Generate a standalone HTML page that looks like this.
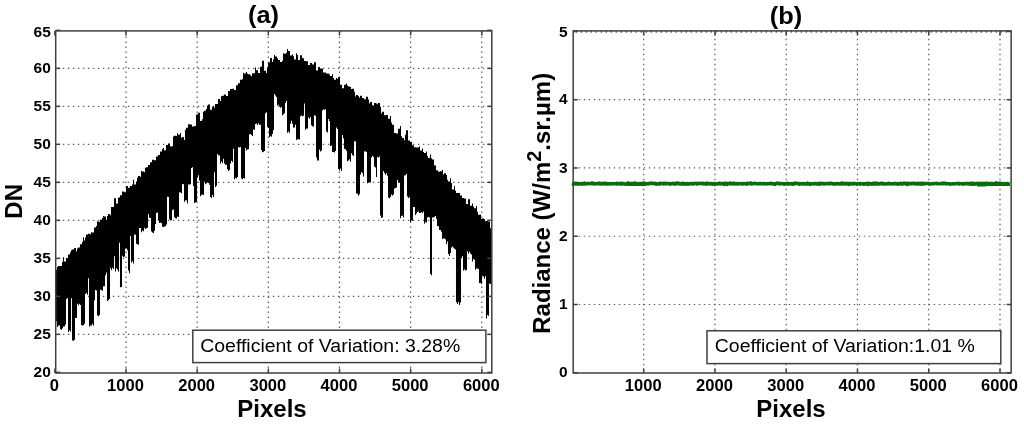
<!DOCTYPE html>
<html><head><meta charset="utf-8"><title>plots</title><style>
html,body{margin:0;padding:0;background:#fff;width:1024px;height:425px;overflow:hidden}
svg{position:absolute;left:0;top:0;display:block;filter:blur(0.4px)}
text{font-family:"Liberation Sans",sans-serif;fill:#000}
.tk{font-size:15.5px;font-weight:bold}
.lb{font-size:24px;font-weight:bold}
.bx{font-size:18px}
.g{stroke:#5a5a5a;stroke-width:1.2;stroke-dasharray:1.4 3.6;fill:none}
.t{stroke:#404040;stroke-width:1.5}
</style></head><body>
<svg width="1024" height="425" viewBox="0 0 1024 425">
<line x1="126.01" y1="30.90" x2="126.01" y2="373.00" class="g" stroke-dashoffset="4.4"/>
<line x1="197.17" y1="30.90" x2="197.17" y2="373.00" class="g" stroke-dashoffset="4.4"/>
<line x1="268.33" y1="30.90" x2="268.33" y2="373.00" class="g" stroke-dashoffset="4.4"/>
<line x1="339.49" y1="30.90" x2="339.49" y2="373.00" class="g" stroke-dashoffset="4.4"/>
<line x1="410.65" y1="30.90" x2="410.65" y2="373.00" class="g" stroke-dashoffset="4.4"/>
<line x1="481.81" y1="30.90" x2="481.81" y2="373.00" class="g" stroke-dashoffset="4.4"/>
<line x1="55.70" y1="334.35" x2="491.80" y2="334.35" class="g" stroke-dashoffset="2.8"/>
<line x1="55.70" y1="296.35" x2="491.80" y2="296.35" class="g" stroke-dashoffset="2.8"/>
<line x1="55.70" y1="258.35" x2="491.80" y2="258.35" class="g" stroke-dashoffset="2.8"/>
<line x1="55.70" y1="220.35" x2="491.80" y2="220.35" class="g" stroke-dashoffset="2.8"/>
<line x1="55.70" y1="182.35" x2="491.80" y2="182.35" class="g" stroke-dashoffset="2.8"/>
<line x1="55.70" y1="144.35" x2="491.80" y2="144.35" class="g" stroke-dashoffset="2.8"/>
<line x1="55.70" y1="106.35" x2="491.80" y2="106.35" class="g" stroke-dashoffset="2.8"/>
<line x1="55.70" y1="68.35" x2="491.80" y2="68.35" class="g" stroke-dashoffset="2.8"/>
<line x1="643.70" y1="30.90" x2="643.70" y2="373.00" class="g" stroke-dashoffset="2.05"/>
<line x1="714.96" y1="30.90" x2="714.96" y2="373.00" class="g" stroke-dashoffset="2.05"/>
<line x1="786.22" y1="30.90" x2="786.22" y2="373.00" class="g" stroke-dashoffset="2.05"/>
<line x1="857.48" y1="30.90" x2="857.48" y2="373.00" class="g" stroke-dashoffset="2.05"/>
<line x1="928.74" y1="30.90" x2="928.74" y2="373.00" class="g" stroke-dashoffset="2.05"/>
<line x1="1000.00" y1="30.90" x2="1000.00" y2="373.00" class="g" stroke-dashoffset="2.05"/>
<line x1="573.20" y1="304.51" x2="1011.15" y2="304.51" class="g" stroke-dashoffset="4.4"/>
<line x1="573.20" y1="236.24" x2="1011.15" y2="236.24" class="g" stroke-dashoffset="4.4"/>
<line x1="573.20" y1="167.97" x2="1011.15" y2="167.97" class="g" stroke-dashoffset="4.4"/>
<line x1="573.20" y1="99.70" x2="1011.15" y2="99.70" class="g" stroke-dashoffset="4.4"/>
<line x1="573.20" y1="31.8" x2="1011.15" y2="31.8" class="g" stroke-dashoffset="2.6" style="stroke:#222"/>
<path d="M56.5 269.8V321.2M57.5 267.0V327.1M58.5 266.1V325.6M59.5 266.1V325.4M60.5 265.9V328.9M61.5 265.9V329.7M62.5 262.0V328.2M63.5 257.3V326.5M64.5 261.4V326.5M65.5 261.4V324.6M66.5 258.1V299.1M67.5 258.1V298.1M68.5 254.4V331.9M69.5 254.4V330.3M70.5 252.2V331.6M71.5 250.3V298.3M72.5 249.6V340.4M73.5 249.6V340.7M74.5 248.0V339.7M75.5 248.0V318.0M76.5 251.3V317.8M77.5 248.4V303.8M78.5 247.6V305.2M79.5 247.6V303.7M80.5 244.2V305.0M81.5 244.2V324.9M82.5 242.0V325.4M83.5 237.3V325.3M84.5 240.4V323.8M85.5 237.6V294.0M86.5 234.5V293.0M87.5 234.5V294.8M88.5 233.8V278.3M89.5 233.8V326.4M90.5 234.3V325.6M91.5 232.3V325.4M92.5 232.5V323.7M93.5 232.5V325.6M94.5 227.4V300.2M95.5 227.4V290.0M96.5 226.0V290.5M97.5 221.3V315.6M98.5 221.7V316.3M99.5 221.7V315.1M100.5 219.8V289.6M101.5 219.8V290.2M102.5 218.0V290.8M103.5 216.1V286.2M104.5 216.6V286.2M105.5 216.6V275.3M106.5 219.8V272.4M107.5 216.1V300.9M108.5 213.9V299.9M109.5 213.9V299.0M110.5 215.2V268.1M111.5 207.0V270.0M112.5 207.1V267.8M113.5 207.1V269.1M114.5 198.2V256.2M115.5 198.2V271.5M116.5 203.5V268.2M117.5 203.5V269.4M118.5 197.6V271.6M119.5 197.6V242.8M120.5 195.3V287.3M121.5 195.3V287.0M122.5 191.5V255.8M123.5 191.5V256.9M124.5 192.3V256.4M125.5 192.3V248.8M126.5 185.9V248.5M127.5 185.9V250.2M128.5 187.7V270.6M129.5 187.7V273.3M130.5 186.0V236.1M131.5 186.0V262.4M132.5 184.5V260.9M133.5 179.8V263.6M134.5 184.6V234.6M135.5 184.6V234.8M136.5 181.5V243.8M137.5 177.7V244.3M138.5 176.1V244.8M139.5 176.1V228.1M140.5 176.7V227.9M141.5 171.0V232.2M142.5 171.5V230.5M143.5 171.5V231.2M144.5 172.3V227.8M145.5 167.7V229.0M146.5 167.3V228.3M147.5 167.3V227.8M148.5 165.1V213.9M149.5 165.1V217.8M150.5 162.3V218.0M151.5 162.3V231.5M152.5 159.8V232.5M153.5 159.8V232.9M154.5 160.2V230.7M155.5 160.2V223.9M156.5 156.4V213.1M157.5 156.4V212.6M158.5 155.0V220.3M159.5 155.0V223.0M160.5 151.6V222.8M161.5 151.6V223.1M162.5 149.1V226.8M163.5 148.0V226.9M164.5 150.2V226.5M165.5 150.2V226.2M166.5 144.9V224.5M167.5 144.9V196.8M168.5 143.4V197.1M169.5 143.4V219.2M170.5 146.6V220.5M171.5 146.6V220.0M172.5 146.1V210.1M173.5 136.6V209.6M174.5 135.8V217.3M175.5 135.8V218.2M176.5 136.1V218.4M177.5 133.3V216.5M178.5 134.7V217.0M179.5 134.7V192.3M180.5 133.0V192.4M181.5 137.7V193.3M182.5 137.1V183.9M183.5 137.1V184.2M184.5 140.1V201.8M185.5 129.8V200.6M186.5 127.7V200.2M187.5 127.7V203.6M188.5 124.3V184.4M189.5 124.3V184.4M190.5 124.4V184.2M191.5 124.4V168.0M192.5 126.5V167.3M193.5 126.5V185.9M194.5 126.1V203.0M195.5 126.1V202.6M196.5 114.5V201.8M197.5 114.5V177.2M198.5 112.7V175.3M199.5 112.7V180.4M200.5 120.9V196.2M201.5 120.9V194.7M202.5 119.3V194.7M203.5 111.8V195.1M204.5 110.8V181.7M205.5 110.8V184.2M206.5 109.1V183.3M207.5 105.4V182.5M208.5 104.6V183.1M209.5 104.6V184.8M210.5 109.7V197.0M211.5 109.7V198.1M212.5 106.6V195.1M213.5 106.6V197.1M214.5 107.7V172.2M215.5 103.9V187.0M216.5 104.1V185.8M217.5 104.1V154.1M218.5 99.0V155.4M219.5 99.0V155.2M220.5 101.0V163.7M221.5 96.2V161.6M222.5 95.7V162.9M223.5 95.7V158.7M224.5 94.4V163.6M225.5 94.4V164.7M226.5 95.9V164.8M227.5 95.9V169.1M228.5 90.9V171.0M229.5 90.9V170.1M230.5 89.0V163.5M231.5 89.0V160.8M232.5 88.8V162.0M233.5 88.8V148.8M234.5 90.0V179.3M235.5 90.0V177.8M236.5 85.3V178.6M237.5 85.3V177.1M238.5 83.2V147.3M239.5 83.2V147.6M240.5 79.8V147.0M241.5 79.8V178.5M242.5 79.2V179.2M243.5 72.7V178.1M244.5 73.5V178.5M245.5 73.5V147.9M246.5 71.9V150.5M247.5 73.7V149.3M248.5 74.3V149.3M249.5 74.3V134.3M250.5 75.2V134.1M251.5 76.2V135.1M252.5 73.3V136.1M253.5 73.3V129.5M254.5 73.3V129.8M255.5 67.6V124.1M256.5 70.3V123.4M257.5 70.3V124.9M258.5 73.1V123.2M259.5 73.1V124.8M260.5 66.8V124.7M261.5 66.8V149.9M262.5 60.8V152.2M263.5 60.8V151.7M264.5 70.8V151.0M265.5 70.8V113.2M266.5 72.9V112.2M267.5 67.3V127.1M268.5 62.5V128.0M269.5 62.5V137.3M270.5 58.1V135.7M271.5 58.1V136.7M272.5 62.1V134.0M273.5 59.3V129.9M274.5 54.9V94.1M275.5 56.5V95.6M276.5 56.4V96.9M277.5 58.2V105.4M278.5 59.9V104.7M279.5 59.9V106.4M280.5 61.9V107.7M281.5 61.9V106.9M282.5 60.8V115.3M283.5 53.2V114.2M284.5 53.7V113.2M285.5 53.7V102.9M286.5 52.8V100.7M287.5 49.0V132.8M288.5 50.9V131.6M289.5 50.9V132.8M290.5 55.5V123.7M291.5 55.5V120.8M292.5 54.4V123.8M293.5 56.3V127.6M294.5 59.6V127.4M295.5 59.6V124.8M296.5 53.2V139.9M297.5 55.0V139.3M298.5 60.0V139.2M299.5 60.0V139.5M300.5 55.2V116.2M301.5 55.2V115.4M302.5 58.2V116.3M303.5 58.2V115.7M304.5 60.9V103.5M305.5 60.9V129.8M306.5 61.2V128.5M307.5 61.2V128.4M308.5 65.1V117.6M309.5 65.1V118.7M310.5 62.9V117.1M311.5 62.9V125.3M312.5 64.4V126.3M313.5 64.4V126.6M314.5 62.2V115.2M315.5 62.2V115.7M316.5 70.6V157.6M317.5 70.6V160.4M318.5 67.1V160.4M319.5 67.1V149.5M320.5 68.6V151.6M321.5 68.6V150.4M322.5 68.7V110.4M323.5 72.4V109.2M324.5 72.6V109.8M325.5 72.6V109.2M326.5 73.4V131.5M327.5 73.4V132.5M328.5 73.4V118.9M329.5 74.4V120.9M330.5 76.1V146.1M331.5 76.1V145.4M332.5 74.3V152.0M333.5 78.0V152.1M334.5 79.7V152.5M335.5 79.7V150.9M336.5 78.1V127.4M337.5 79.1V129.0M338.5 77.3V169.0M339.5 77.3V170.4M340.5 84.7V168.6M341.5 84.7V171.0M342.5 88.3V134.9M343.5 88.3V138.2M344.5 84.7V149.0M345.5 84.7V149.3M346.5 83.5V150.8M347.5 85.4V161.3M348.5 86.5V160.5M349.5 86.5V159.3M350.5 87.1V161.7M351.5 88.9V153.3M352.5 88.8V155.1M353.5 88.8V156.0M354.5 91.7V141.5M355.5 96.5V141.3M356.5 95.0V193.6M357.5 95.0V193.7M358.5 96.0V195.7M359.5 97.8V194.3M360.5 95.8V174.6M361.5 95.8V172.1M362.5 98.0V172.9M363.5 98.0V176.4M364.5 99.2V151.5M365.5 99.2V151.2M366.5 96.8V152.1M367.5 96.8V183.2M368.5 99.6V182.3M369.5 103.4V182.3M370.5 102.1V182.5M371.5 102.1V157.4M372.5 105.0V155.9M373.5 106.0V156.8M374.5 103.1V166.6M375.5 103.1V167.6M376.5 103.6V177.0M377.5 104.3V157.1M378.5 103.0V157.4M379.5 103.0V156.5M380.5 106.8V215.6M381.5 113.4V217.9M382.5 111.7V217.2M383.5 111.7V171.1M384.5 115.2V172.9M385.5 115.2V174.7M386.5 115.1V173.2M387.5 115.1V175.7M388.5 118.8V197.7M389.5 118.8V198.2M390.5 116.0V197.0M391.5 122.6V194.4M392.5 124.8V195.5M393.5 124.8V194.5M394.5 132.9V188.5M395.5 132.9V187.9M396.5 133.4V187.4M397.5 133.4V179.9M398.5 128.8V182.0M399.5 128.8V182.8M400.5 126.0V218.2M401.5 136.3V216.0M402.5 138.0V215.4M403.5 138.0V217.4M404.5 140.3V175.6M405.5 134.7V175.3M406.5 130.2V173.7M407.5 130.2V196.5M408.5 140.5V198.1M409.5 140.5V197.2M410.5 142.0V222.1M411.5 142.0V220.6M412.5 145.3V220.7M413.5 145.3V207.0M414.5 147.3V207.1M415.5 147.3V215.1M416.5 147.4V213.4M417.5 147.4V212.1M418.5 147.4V211.5M419.5 146.5V213.0M420.5 150.5V213.1M421.5 150.5V212.0M422.5 148.4V213.1M423.5 152.1V211.6M424.5 152.9V223.8M425.5 152.9V222.1M426.5 151.4V222.5M427.5 156.1V217.4M428.5 157.9V217.0M429.5 157.9V217.4M430.5 154.5V274.1M431.5 158.3V275.2M432.5 159.4V217.5M433.5 159.4V217.6M434.5 165.5V216.8M435.5 165.5V216.0M436.5 170.2V218.7M437.5 170.2V225.9M438.5 171.8V226.3M439.5 171.8V229.9M440.5 171.3V230.0M441.5 171.3V231.8M442.5 169.9V239.0M443.5 174.6V238.3M444.5 173.2V238.5M445.5 173.2V239.3M446.5 175.1V244.3M447.5 179.8V241.5M448.5 181.5V253.9M449.5 181.5V256.1M450.5 178.2V253.0M451.5 182.9V247.4M452.5 189.5V246.4M453.5 189.5V247.8M454.5 186.0V248.7M455.5 190.7V249.6M456.5 193.1V302.3M457.5 193.1V304.1M458.5 193.0V302.1M459.5 193.0V305.1M460.5 195.5V302.5M461.5 195.5V258.2M462.5 198.1V256.3M463.5 198.1V270.5M464.5 198.4V269.3M465.5 198.4V270.5M466.5 203.9V269.9M467.5 203.9V251.3M468.5 199.3V253.8M469.5 199.3V251.8M470.5 205.8V253.5M471.5 205.8V254.4M472.5 203.6V261.6M473.5 206.4V259.0M474.5 208.2V259.8M475.5 208.2V269.8M476.5 206.1V268.6M477.5 211.7V268.4M478.5 214.8V269.1M479.5 214.8V283.0M480.5 214.4V283.1M481.5 219.1V284.0M482.5 218.5V275.8M483.5 218.5V276.5M484.5 219.3V278.8M485.5 221.2V276.0M486.5 221.1V318.5M487.5 221.1V314.9M488.5 221.6V315.8M489.5 221.6V283.4M490.5 228.3V283.9M491.5 226.9V284.7" stroke="#000" stroke-width="1.05" fill="none"/>
<polyline points="573.2,183.73 573.2,184.34 573.3,184.30 573.7,183.39 574.2,183.62 574.6,184.03 575.0,183.37 575.4,184.09 575.9,183.36 576.3,183.28 576.7,183.88 577.1,183.97 577.6,183.44 578.0,183.97 578.4,183.44 578.9,184.00 579.3,183.45 579.7,183.65 580.1,183.79 580.6,183.92 581.0,183.61 581.4,184.19 581.8,183.75 582.3,183.78 582.7,183.49 583.1,184.01 583.6,183.20 584.0,183.76 584.4,183.98 584.8,183.29 585.3,183.22 585.7,183.72 586.1,183.92 586.5,183.67 587.0,183.86 587.4,183.76 587.8,183.25 588.3,183.57 588.7,183.63 589.1,183.58 589.5,183.69 590.0,183.44 590.4,183.43 590.8,183.77 591.3,183.64 591.7,183.01 592.1,183.56 592.5,183.72 593.0,183.11 593.4,183.67 593.8,183.97 594.2,183.49 594.7,183.92 595.1,183.81 595.5,183.58 596.0,183.71 596.4,183.88 596.8,183.82 597.2,183.83 597.7,183.35 598.1,183.87 598.5,183.83 598.9,183.12 599.4,183.82 599.8,183.27 600.2,183.31 600.7,183.71 601.1,184.06 601.5,183.55 601.9,183.49 602.4,183.41 602.8,183.65 603.2,183.34 603.7,183.29 604.1,183.96 604.5,183.28 604.9,183.62 605.4,183.83 605.8,183.76 606.2,183.16 606.6,183.40 607.1,184.16 607.5,183.65 607.9,183.71 608.4,183.72 608.8,183.81 609.2,184.07 609.6,183.44 610.1,183.93 610.5,183.77 610.9,183.84 611.3,183.87 611.8,183.47 612.2,183.57 612.6,183.86 613.1,183.93 613.5,183.80 613.9,183.41 614.3,183.64 614.8,183.61 615.2,183.76 615.6,183.74 616.1,183.61 616.5,184.18 616.9,183.23 617.3,183.89 617.8,183.83 618.2,183.31 618.6,183.61 619.0,183.66 619.5,183.83 619.9,184.10 620.3,183.62 620.8,183.35 621.2,183.92 621.6,183.30 622.0,183.98 622.5,183.87 622.9,183.53 623.3,183.67 623.7,183.48 624.2,183.87 624.6,183.95 625.0,184.18 625.5,184.00 625.9,183.97 626.3,184.06 626.7,183.59 627.2,183.85 627.6,184.22 628.0,182.99 628.5,183.90 628.9,184.01 629.3,183.33 629.7,183.35 630.2,183.99 630.6,184.07 631.0,183.95 631.4,183.36 631.9,183.76 632.3,183.89 632.7,183.68 633.2,183.34 633.6,184.05 634.0,183.78 634.4,184.05 634.9,183.08 635.3,183.18 635.7,183.41 636.1,183.71 636.6,183.49 637.0,184.25 637.4,183.60 637.9,184.04 638.3,184.03 638.7,183.86 639.1,183.77 639.6,183.52 640.0,183.48 640.4,183.60 640.8,183.93 641.3,183.49 641.7,183.71 642.1,183.35 642.6,183.92 643.0,184.43 643.4,183.80 643.8,183.08 644.3,183.54 644.7,183.73 645.1,183.43 645.6,183.53 646.0,183.55 646.4,183.81 646.8,183.65 647.3,183.62 647.7,183.85 648.1,183.98 648.5,183.63 649.0,183.41 649.4,183.50 649.8,183.54 650.3,183.53 650.7,182.97 651.1,183.60 651.5,183.39 652.0,183.14 652.4,183.66 652.8,183.60 653.2,183.39 653.7,183.21 654.1,183.59 654.5,183.57 655.0,183.65 655.4,184.00 655.8,183.37 656.2,183.74 656.7,184.14 657.1,183.71 657.5,184.14 658.0,183.95 658.4,183.67 658.8,183.92 659.2,183.38 659.7,184.07 660.1,183.60 660.5,183.52 660.9,183.27 661.4,183.42 661.8,183.61 662.2,183.65 662.7,183.69 663.1,183.36 663.5,183.85 663.9,183.53 664.4,183.70 664.8,183.60 665.2,183.74 665.6,183.09 666.1,183.85 666.5,183.60 666.9,183.59 667.4,183.50 667.8,183.55 668.2,183.55 668.6,183.40 669.1,184.08 669.5,183.67 669.9,184.01 670.4,183.61 670.8,183.99 671.2,183.93 671.6,183.69 672.1,183.29 672.5,183.51 672.9,183.59 673.3,183.29 673.8,183.93 674.2,184.24 674.6,183.78 675.1,183.74 675.5,183.33 675.9,183.08 676.3,184.03 676.8,182.99 677.2,183.24 677.6,183.44 678.0,183.57 678.5,183.01 678.9,183.65 679.3,183.80 679.8,183.63 680.2,184.04 680.6,183.54 681.0,183.70 681.5,183.58 681.9,183.57 682.3,183.96 682.8,183.31 683.2,183.95 683.6,183.43 684.0,184.10 684.5,183.57 684.9,183.89 685.3,183.66 685.7,183.85 686.2,184.26 686.6,183.97 687.0,183.65 687.5,183.50 687.9,184.07 688.3,184.25 688.7,183.91 689.2,183.73 689.6,183.84 690.0,183.89 690.4,183.44 690.9,183.40 691.3,183.47 691.7,183.92 692.2,183.65 692.6,183.72 693.0,184.06 693.4,183.43 693.9,183.64 694.3,183.80 694.7,183.28 695.1,183.46 695.6,183.43 696.0,183.34 696.4,183.47 696.9,184.01 697.3,183.77 697.7,183.39 698.1,183.88 698.6,183.66 699.0,183.56 699.4,183.27 699.9,183.31 700.3,183.42 700.7,183.72 701.1,183.42 701.6,183.52 702.0,183.71 702.4,183.30 702.8,183.53 703.3,183.87 703.7,183.32 704.1,183.74 704.6,183.51 705.0,184.08 705.4,183.67 705.8,183.93 706.3,183.93 706.7,184.19 707.1,183.08 707.5,183.71 708.0,183.60 708.4,183.37 708.8,183.70 709.3,183.53 709.7,184.04 710.1,183.62 710.5,183.78 711.0,183.53 711.4,183.62 711.8,184.05 712.3,184.18 712.7,183.95 713.1,183.47 713.5,183.55 714.0,183.56 714.4,184.22 714.8,184.40 715.2,183.84 715.7,183.76 716.1,183.84 716.5,183.57 717.0,183.72 717.4,183.99 717.8,183.91 718.2,183.63 718.7,183.65 719.1,183.69 719.5,183.05 719.9,183.74 720.4,183.64 720.8,183.94 721.2,183.77 721.7,183.53 722.1,183.52 722.5,183.71 722.9,183.56 723.4,183.66 723.8,184.19 724.2,184.57 724.7,183.04 725.1,183.45 725.5,183.69 725.9,184.15 726.4,184.02 726.8,183.30 727.2,184.43 727.6,183.76 728.1,183.43 728.5,183.63 728.9,183.47 729.4,183.71 729.8,183.02 730.2,183.95 730.6,184.04 731.1,183.60 731.5,183.28 731.9,183.69 732.3,183.39 732.8,183.82 733.2,184.00 733.6,183.29 734.1,183.24 734.5,183.25 734.9,183.79 735.3,183.99 735.8,183.99 736.2,183.73 736.6,183.51 737.1,183.53 737.5,184.06 737.9,183.62 738.3,183.67 738.8,183.65 739.2,183.68 739.6,183.73 740.0,183.51 740.5,183.64 740.9,183.61 741.3,183.86 741.8,183.56 742.2,183.71 742.6,184.25 743.0,183.54 743.5,183.74 743.9,183.42 744.3,183.72 744.7,183.70 745.2,183.61 745.6,183.68 746.0,183.79 746.5,184.16 746.9,183.17 747.3,184.10 747.7,183.77 748.2,183.49 748.6,183.57 749.0,183.52 749.4,183.46 749.9,183.33 750.3,183.59 750.7,182.88 751.2,183.95 751.6,183.61 752.0,183.77 752.4,183.82 752.9,183.59 753.3,183.27 753.7,183.87 754.2,183.87 754.6,183.47 755.0,183.52 755.4,183.14 755.9,183.39 756.3,183.61 756.7,183.76 757.1,183.61 757.6,183.72 758.0,184.04 758.4,183.67 758.9,183.72 759.3,183.74 759.7,183.79 760.1,183.21 760.6,183.48 761.0,183.42 761.4,183.84 761.8,183.95 762.3,183.75 762.7,183.61 763.1,183.77 763.6,183.72 764.0,183.41 764.4,183.59 764.8,183.94 765.3,183.79 765.7,183.85 766.1,183.62 766.6,183.99 767.0,183.72 767.4,183.48 767.8,183.66 768.3,183.92 768.7,183.84 769.1,183.64 769.5,183.54 770.0,183.44 770.4,183.71 770.8,184.03 771.3,183.28 771.7,183.59 772.1,183.56 772.5,183.59 773.0,183.96 773.4,183.76 773.8,183.60 774.2,183.39 774.7,183.66 775.1,184.52 775.5,183.74 776.0,183.58 776.4,183.32 776.8,183.48 777.2,182.99 777.7,183.28 778.1,183.30 778.5,183.41 779.0,184.05 779.4,183.44 779.8,183.51 780.2,183.82 780.7,183.51 781.1,183.56 781.5,183.80 781.9,183.71 782.4,183.74 782.8,183.61 783.2,183.79 783.7,183.52 784.1,184.20 784.5,183.75 784.9,184.13 785.4,183.80 785.8,183.53 786.2,183.67 786.6,183.70 787.1,183.65 787.5,183.24 787.9,183.97 788.4,183.43 788.8,184.09 789.2,183.80 789.6,183.63 790.1,183.90 790.5,183.62 790.9,183.47 791.4,184.00 791.8,183.69 792.2,183.77 792.6,184.20 793.1,183.72 793.5,183.89 793.9,183.31 794.3,183.91 794.8,183.21 795.2,183.82 795.6,183.14 796.1,183.52 796.5,183.55 796.9,183.45 797.3,183.43 797.8,183.29 798.2,183.20 798.6,183.77 799.0,184.01 799.5,184.40 799.9,183.78 800.3,183.46 800.8,183.57 801.2,183.64 801.6,183.77 802.0,183.85 802.5,183.75 802.9,183.57 803.3,184.15 803.7,183.47 804.2,184.07 804.6,183.72 805.0,183.85 805.5,183.77 805.9,183.96 806.3,183.99 806.7,183.74 807.2,183.97 807.6,183.00 808.0,183.79 808.5,183.85 808.9,183.82 809.3,183.97 809.7,184.34 810.2,183.74 810.6,183.59 811.0,184.08 811.4,183.67 811.9,184.00 812.3,183.68 812.7,183.58 813.2,183.54 813.6,183.56 814.0,183.87 814.4,183.43 814.9,183.80 815.3,183.58 815.7,183.48 816.1,183.76 816.6,184.03 817.0,183.51 817.4,183.98 817.9,183.92 818.3,183.98 818.7,183.44 819.1,183.72 819.6,184.29 820.0,183.47 820.4,183.11 820.9,183.18 821.3,183.83 821.7,183.65 822.1,183.54 822.6,183.43 823.0,183.67 823.4,183.97 823.8,183.47 824.3,183.51 824.7,184.04 825.1,183.78 825.6,183.60 826.0,183.68 826.4,183.53 826.8,183.46 827.3,183.53 827.7,183.71 828.1,184.04 828.5,183.51 829.0,183.29 829.4,183.14 829.8,183.68 830.3,183.69 830.7,183.28 831.1,183.28 831.5,183.58 832.0,183.48 832.4,183.88 832.8,183.52 833.3,183.90 833.7,183.72 834.1,183.71 834.5,183.80 835.0,184.25 835.4,183.90 835.8,183.58 836.2,183.69 836.7,183.78 837.1,183.56 837.5,183.49 838.0,183.44 838.4,183.90 838.8,183.67 839.2,183.77 839.7,183.92 840.1,184.09 840.5,183.70 840.9,183.91 841.4,183.09 841.8,183.70 842.2,183.74 842.7,183.79 843.1,183.16 843.5,183.93 843.9,183.72 844.4,183.89 844.8,183.71 845.2,183.69 845.7,183.38 846.1,184.06 846.5,183.68 846.9,183.24 847.4,183.82 847.8,183.73 848.2,183.92 848.6,184.39 849.1,183.71 849.5,183.36 849.9,183.80 850.4,184.18 850.8,183.60 851.2,183.66 851.6,183.40 852.1,183.43 852.5,183.75 852.9,183.57 853.3,184.17 853.8,183.37 854.2,183.63 854.6,183.38 855.1,183.39 855.5,183.76 855.9,183.72 856.3,183.92 856.8,184.24 857.2,183.71 857.6,183.63 858.1,183.97 858.5,183.48 858.9,183.65 859.3,183.55 859.8,183.89 860.2,184.16 860.6,183.46 861.0,183.51 861.5,183.71 861.9,183.79 862.3,183.75 862.8,183.71 863.2,183.82 863.6,184.23 864.0,183.46 864.5,184.08 864.9,183.77 865.3,183.76 865.7,183.61 866.2,184.12 866.6,183.35 867.0,183.50 867.5,183.47 867.9,183.33 868.3,183.89 868.7,184.53 869.2,183.58 869.6,183.32 870.0,183.36 870.4,183.82 870.9,183.70 871.3,183.60 871.7,184.17 872.2,183.86 872.6,183.85 873.0,183.24 873.4,183.85 873.9,183.24 874.3,183.67 874.7,184.13 875.2,183.07 875.6,183.94 876.0,183.50 876.4,183.21 876.9,183.82 877.3,184.01 877.7,183.39 878.1,183.65 878.6,184.01 879.0,183.97 879.4,183.78 879.9,183.41 880.3,183.75 880.7,183.49 881.1,183.22 881.6,183.33 882.0,183.28 882.4,183.34 882.8,184.11 883.3,183.34 883.7,183.58 884.1,183.71 884.6,183.97 885.0,184.11 885.4,183.98 885.8,183.68 886.3,183.99 886.7,183.90 887.1,183.84 887.6,183.49 888.0,183.75 888.4,183.71 888.8,183.31 889.3,183.76 889.7,183.51 890.1,183.96 890.5,183.58 891.0,183.64 891.4,183.62 891.8,183.80 892.3,183.95 892.7,183.75 893.1,183.80 893.5,183.39 894.0,183.42 894.4,184.00 894.8,183.50 895.2,183.80 895.7,183.55 896.1,183.80 896.5,184.07 897.0,183.39 897.4,183.55 897.8,184.01 898.2,184.19 898.7,183.82 899.1,183.99 899.5,183.77 900.0,183.50 900.4,183.27 900.8,183.77 901.2,183.30 901.7,183.35 902.1,183.79 902.5,184.13 902.9,183.44 903.4,183.51 903.8,183.03 904.2,183.28 904.7,183.46 905.1,183.21 905.5,183.96 905.9,183.62 906.4,183.75 906.8,183.20 907.2,183.52 907.6,184.51 908.1,183.30 908.5,183.92 908.9,183.46 909.4,183.80 909.8,183.60 910.2,183.50 910.6,183.62 911.1,183.93 911.5,183.29 911.9,183.56 912.4,183.67 912.8,183.48 913.2,183.81 913.6,183.15 914.1,183.61 914.5,183.57 914.9,183.57 915.3,183.92 915.8,183.99 916.2,183.61 916.6,183.57 917.1,183.30 917.5,183.54 917.9,183.96 918.3,183.52 918.8,183.44 919.2,183.39 919.6,183.58 920.0,184.00 920.5,183.35 920.9,183.87 921.3,183.51 921.8,184.10 922.2,183.46 922.6,183.88 923.0,183.37 923.5,183.19 923.9,183.35 924.3,183.99 924.7,183.92 925.2,183.90 925.6,183.49 926.0,183.57 926.5,183.62 926.9,183.58 927.3,183.51 927.7,183.49 928.2,183.21 928.6,183.68 929.0,183.61 929.5,184.17 929.9,184.03 930.3,183.86 930.7,183.99 931.2,183.61 931.6,183.38 932.0,183.79 932.4,183.80 932.9,183.81 933.3,183.63 933.7,183.82 934.2,183.55 934.6,183.59 935.0,183.58 935.4,183.46 935.9,183.66 936.3,183.63 936.7,183.19 937.1,183.68 937.6,183.45 938.0,183.66 938.4,183.80 938.9,183.80 939.3,183.90 939.7,183.67 940.1,183.84 940.6,183.79 941.0,183.34 941.4,183.71 941.9,183.36 942.3,183.60 942.7,183.44 943.1,183.84 943.6,183.63 944.0,182.95 944.4,183.45 944.8,183.40 945.3,183.61 945.7,183.44 946.1,183.99 946.6,183.91 947.0,183.56 947.4,183.45 947.8,183.79 948.3,183.72 948.7,183.77 949.1,183.73 949.5,184.00 950.0,184.07 950.4,183.70 950.8,184.15 951.3,183.94 951.7,183.86 952.1,183.96 952.5,183.61 953.0,183.80 953.4,183.70 953.8,183.95 954.3,183.88 954.7,183.54 955.1,183.58 955.5,183.81 956.0,183.58 956.4,183.63 956.8,183.64 957.2,183.24 957.7,183.79 958.1,183.56 958.5,183.56 959.0,183.74 959.4,184.00 959.8,183.49 960.2,183.61 960.7,183.67 961.1,183.67 961.5,183.68 961.9,183.93 962.4,183.60 962.8,184.17 963.2,183.69 963.7,184.09 964.1,183.78 964.5,183.49 964.9,183.76 965.4,183.82 965.8,183.54 966.2,183.76 966.7,183.80 967.1,183.79 967.5,183.27 967.9,183.50 968.4,183.55 968.8,184.01 969.2,183.52 969.6,184.04 970.1,183.56 970.5,183.99 970.9,183.15 971.4,184.15 971.8,183.35 972.2,183.47 972.6,184.17 973.1,183.75 973.5,183.29 973.9,183.38 974.3,184.14 974.8,183.83 975.2,184.01 975.6,183.97 976.1,183.86 976.5,183.19 976.9,183.65 977.3,183.75 977.8,183.78 978.2,183.51 978.6,183.50 979.0,183.94 979.5,183.29 979.9,183.99 980.3,183.77 980.8,183.57 981.2,183.22 981.6,183.78 982.0,183.61 982.5,183.33 982.9,183.52 983.3,183.38 983.8,183.41 984.2,183.62 984.6,183.52 985.0,183.44 985.5,183.70 985.9,183.25 986.3,184.23 986.7,183.94 987.2,183.30 987.6,183.57 988.0,183.87 988.5,183.59 988.9,183.39 989.3,183.84 989.7,183.48 990.2,183.72 990.6,183.72 991.0,183.71 991.4,183.39 991.9,184.00 992.3,183.79 992.7,183.51 993.2,184.02 993.6,184.12 994.0,183.53 994.4,183.69 994.9,183.73 995.3,183.65 995.7,183.95 996.2,182.89 996.6,183.96 997.0,183.81 997.4,184.08 997.9,183.80 998.3,183.27 998.7,183.68 999.1,183.53 999.6,183.82 1000.0,183.19 1000.4,183.64 1000.9,184.03 1001.3,183.48 1001.7,183.79 1002.1,183.52 1002.6,183.65 1003.0,183.62 1003.4,183.65 1003.8,183.94 1004.3,184.10 1004.7,183.42 1005.1,183.73 1005.6,183.61 1006.0,183.82 1006.4,184.24 1006.8,184.04 1007.3,183.31 1007.7,183.90 1008.1,183.79 1008.6,184.09 1009.0,183.83 1009.4,183.79 1009.8,183.75" stroke="#0b6d0b" stroke-width="3.4" fill="none" stroke-linejoin="round"/>
<path d="M977 185.3H986.2M987 184.6H1010" stroke="#0b6d0b" stroke-width="2.6" fill="none"/>
<path d="M627 184.9H646M664 183.2H672" stroke="#0b6d0b" stroke-width="2.2" fill="none"/>
<rect x="55.7" y="30.9" width="436.10" height="342.10" fill="none" stroke="#404040" stroke-width="1.5"/>
<rect x="573.2" y="30.9" width="437.95" height="342.10" fill="none" stroke="#404040" stroke-width="1.5"/>
<line x1="54.85" y1="373.0" x2="54.85" y2="368.5" class="t"/>
<line x1="54.85" y1="30.9" x2="54.85" y2="35.4" class="t"/>
<line x1="126.01" y1="373.0" x2="126.01" y2="368.5" class="t"/>
<line x1="126.01" y1="30.9" x2="126.01" y2="35.4" class="t"/>
<line x1="197.17" y1="373.0" x2="197.17" y2="368.5" class="t"/>
<line x1="197.17" y1="30.9" x2="197.17" y2="35.4" class="t"/>
<line x1="268.33" y1="373.0" x2="268.33" y2="368.5" class="t"/>
<line x1="268.33" y1="30.9" x2="268.33" y2="35.4" class="t"/>
<line x1="339.49" y1="373.0" x2="339.49" y2="368.5" class="t"/>
<line x1="339.49" y1="30.9" x2="339.49" y2="35.4" class="t"/>
<line x1="410.65" y1="373.0" x2="410.65" y2="368.5" class="t"/>
<line x1="410.65" y1="30.9" x2="410.65" y2="35.4" class="t"/>
<line x1="481.81" y1="373.0" x2="481.81" y2="368.5" class="t"/>
<line x1="481.81" y1="30.9" x2="481.81" y2="35.4" class="t"/>
<line x1="55.7" y1="372.35" x2="60.2" y2="372.35" class="t"/>
<line x1="491.8" y1="372.35" x2="487.3" y2="372.35" class="t"/>
<line x1="55.7" y1="334.35" x2="60.2" y2="334.35" class="t"/>
<line x1="491.8" y1="334.35" x2="487.3" y2="334.35" class="t"/>
<line x1="55.7" y1="296.35" x2="60.2" y2="296.35" class="t"/>
<line x1="491.8" y1="296.35" x2="487.3" y2="296.35" class="t"/>
<line x1="55.7" y1="258.35" x2="60.2" y2="258.35" class="t"/>
<line x1="491.8" y1="258.35" x2="487.3" y2="258.35" class="t"/>
<line x1="55.7" y1="220.35" x2="60.2" y2="220.35" class="t"/>
<line x1="491.8" y1="220.35" x2="487.3" y2="220.35" class="t"/>
<line x1="55.7" y1="182.35" x2="60.2" y2="182.35" class="t"/>
<line x1="491.8" y1="182.35" x2="487.3" y2="182.35" class="t"/>
<line x1="55.7" y1="144.35" x2="60.2" y2="144.35" class="t"/>
<line x1="491.8" y1="144.35" x2="487.3" y2="144.35" class="t"/>
<line x1="55.7" y1="106.35" x2="60.2" y2="106.35" class="t"/>
<line x1="491.8" y1="106.35" x2="487.3" y2="106.35" class="t"/>
<line x1="55.7" y1="68.35" x2="60.2" y2="68.35" class="t"/>
<line x1="491.8" y1="68.35" x2="487.3" y2="68.35" class="t"/>
<line x1="55.7" y1="30.35" x2="60.2" y2="30.35" class="t"/>
<line x1="491.8" y1="30.35" x2="487.3" y2="30.35" class="t"/>
<line x1="643.70" y1="373.0" x2="643.70" y2="368.5" class="t"/>
<line x1="643.70" y1="30.9" x2="643.70" y2="35.4" class="t"/>
<line x1="714.96" y1="373.0" x2="714.96" y2="368.5" class="t"/>
<line x1="714.96" y1="30.9" x2="714.96" y2="35.4" class="t"/>
<line x1="786.22" y1="373.0" x2="786.22" y2="368.5" class="t"/>
<line x1="786.22" y1="30.9" x2="786.22" y2="35.4" class="t"/>
<line x1="857.48" y1="373.0" x2="857.48" y2="368.5" class="t"/>
<line x1="857.48" y1="30.9" x2="857.48" y2="35.4" class="t"/>
<line x1="928.74" y1="373.0" x2="928.74" y2="368.5" class="t"/>
<line x1="928.74" y1="30.9" x2="928.74" y2="35.4" class="t"/>
<line x1="1000.00" y1="373.0" x2="1000.00" y2="368.5" class="t"/>
<line x1="1000.00" y1="30.9" x2="1000.00" y2="35.4" class="t"/>
<line x1="573.2" y1="372.78" x2="577.7" y2="372.78" class="t"/>
<line x1="1011.15" y1="372.78" x2="1006.65" y2="372.78" class="t"/>
<line x1="573.2" y1="304.51" x2="577.7" y2="304.51" class="t"/>
<line x1="1011.15" y1="304.51" x2="1006.65" y2="304.51" class="t"/>
<line x1="573.2" y1="236.24" x2="577.7" y2="236.24" class="t"/>
<line x1="1011.15" y1="236.24" x2="1006.65" y2="236.24" class="t"/>
<line x1="573.2" y1="167.97" x2="577.7" y2="167.97" class="t"/>
<line x1="1011.15" y1="167.97" x2="1006.65" y2="167.97" class="t"/>
<line x1="573.2" y1="99.70" x2="577.7" y2="99.70" class="t"/>
<line x1="1011.15" y1="99.70" x2="1006.65" y2="99.70" class="t"/>
<line x1="573.2" y1="31.43" x2="577.7" y2="31.43" class="t"/>
<line x1="1011.15" y1="31.43" x2="1006.65" y2="31.43" class="t"/>
<text transform="translate(54.35 390.9) scale(1.035 1)" class="tk" text-anchor="middle" style="font-size:16px">0</text>
<text transform="translate(125.51 390.9) scale(1.035 1)" class="tk" text-anchor="middle" style="font-size:16px">1000</text>
<text transform="translate(196.67 390.9) scale(1.035 1)" class="tk" text-anchor="middle" style="font-size:16px">2000</text>
<text transform="translate(267.83 390.9) scale(1.035 1)" class="tk" text-anchor="middle" style="font-size:16px">3000</text>
<text transform="translate(338.99 390.9) scale(1.035 1)" class="tk" text-anchor="middle" style="font-size:16px">4000</text>
<text transform="translate(410.15 390.9) scale(1.035 1)" class="tk" text-anchor="middle" style="font-size:16px">5000</text>
<text transform="translate(481.31 390.9) scale(1.035 1)" class="tk" text-anchor="middle" style="font-size:16px">6000</text>
<text transform="translate(643.20 390.9) scale(1.035 1)" class="tk" text-anchor="middle" style="font-size:16px">1000</text>
<text transform="translate(714.46 390.9) scale(1.035 1)" class="tk" text-anchor="middle" style="font-size:16px">2000</text>
<text transform="translate(785.72 390.9) scale(1.035 1)" class="tk" text-anchor="middle" style="font-size:16px">3000</text>
<text transform="translate(856.98 390.9) scale(1.035 1)" class="tk" text-anchor="middle" style="font-size:16px">4000</text>
<text transform="translate(928.24 390.9) scale(1.035 1)" class="tk" text-anchor="middle" style="font-size:16px">5000</text>
<text transform="translate(999.50 390.9) scale(1.035 1)" class="tk" text-anchor="middle" style="font-size:16px">6000</text>
<text x="50.80" y="377.30" class="tk" text-anchor="end">20</text>
<text x="50.80" y="339.30" class="tk" text-anchor="end">25</text>
<text x="50.80" y="301.30" class="tk" text-anchor="end">30</text>
<text x="50.80" y="263.30" class="tk" text-anchor="end">35</text>
<text x="50.80" y="225.30" class="tk" text-anchor="end">40</text>
<text x="50.80" y="187.30" class="tk" text-anchor="end">45</text>
<text x="50.80" y="149.30" class="tk" text-anchor="end">50</text>
<text x="50.80" y="111.30" class="tk" text-anchor="end">55</text>
<text x="50.80" y="73.30" class="tk" text-anchor="end">60</text>
<text x="50.80" y="37.30" class="tk" text-anchor="end">65</text>
<text x="567.60" y="377.48" class="tk" text-anchor="end">0</text>
<text x="567.60" y="309.21" class="tk" text-anchor="end">1</text>
<text x="567.60" y="240.94" class="tk" text-anchor="end">2</text>
<text x="567.60" y="172.67" class="tk" text-anchor="end">3</text>
<text x="567.60" y="104.40" class="tk" text-anchor="end">4</text>
<text x="567.60" y="36.93" class="tk" text-anchor="end">5</text>
<text x="272" y="416.6" class="lb" text-anchor="middle">Pixels</text>
<text x="791" y="416.6" class="lb" text-anchor="middle">Pixels</text>
<text transform="translate(263.5 22.6) scale(1.06 1)" class="lb" text-anchor="middle">(a)</text>
<text transform="translate(786 23.8) scale(1.06 1)" class="lb" text-anchor="middle">(b)</text>
<text transform="translate(22.2,201.3) rotate(-90)" class="lb" text-anchor="middle">DN</text>
<text transform="translate(549.7,203.3) rotate(-90)" class="lb" text-anchor="middle">Radiance (W/m<tspan dy="-9" font-size="20">2</tspan><tspan dy="9">.sr.µm)</tspan></text>
<rect x="192.8" y="330.2" width="293.1" height="32.4" fill="#fff" stroke="#404040" stroke-width="1.5"/>
<rect x="707" y="330.8" width="293.8" height="32.8" fill="#fff" stroke="#404040" stroke-width="1.5"/>
<text x="200.2" y="351.9" class="bx" textLength="260" lengthAdjust="spacingAndGlyphs">Coefficient of Variation: 3.28%</text>
<text x="714.8" y="351.9" class="bx" textLength="260" lengthAdjust="spacingAndGlyphs">Coefficient of Variation:1.01 %</text>
</svg>
</body></html>
